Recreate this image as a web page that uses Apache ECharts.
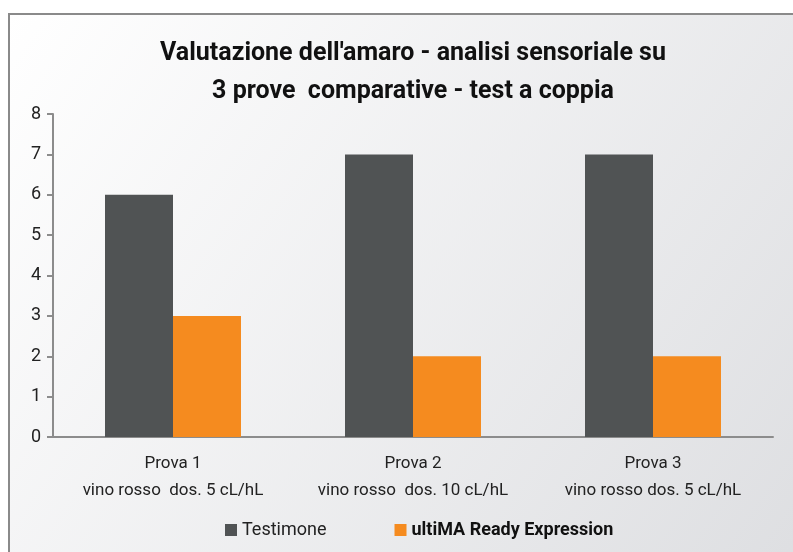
<!DOCTYPE html>
<html lang="it">
<head>
<meta charset="utf-8" />
<script src="https://cdn.jsdelivr.net/npm/echarts@6/dist/echarts.min.js"></script>
<style>
  html, body { margin: 0; padding: 0; background: #fff; }
  #view1 { width: 793px; height: 552px; }
</style>
</head>
<body>
<div id="view1"></div>
<script>
    // dati
    var categories = ["Prova 1\nvino rosso  dos. 5 cL/hL", "Prova 2\nvino rosso  dos. 10 cL/hL", "Prova 3\nvino rosso dos. 5 cL/hL"];
    var seriesNames = ["Testimone", "ultiMA Ready Expression"];
    var testimone = [6, 7, 7];
    var ultima = [3, 2, 2];
    var yTicks = [0, 8, 1];   // min, max, interval

    var colDark = "#505354", colOrange = "#F58B1F", axisClr = "#8c8c8c";
    var font = "Roboto";

    var myChart = echarts.init(document.getElementById("view1"));
    myChart.setOption({
        backgroundColor: "#fff",
        animation: false,
        graphic: [{
            type: "rect", z: -10, silent: true,
            shape: { x: 9, y: 14, width: 800, height: 560 },
            style: {
                stroke: "#8a8a8a", lineWidth: 2,
                fill: new echarts.graphic.LinearGradient(0, 0, 1, 1, [
                    { offset: 0, color: "#ffffff" },
                    { offset: 1, color: "#dddee1" }
                ])
            }
        }],
        title: {
            text: "Valutazione dell'amaro - analisi sensoriale su\n3 prove  comparative - test a coppia",
            left: 408, top: 30, textAlign: "center",
            textStyle: { fontFamily: font, fontWeight: "bold", fontSize: 25, color: "#111", lineHeight: 38 }
        },
        legend: {
            bottom: 8, left: 220, itemWidth: 12, itemHeight: 12, itemGap: 68, itemStyle: { borderWidth: 0 },
            icon: "rect",
            data: [
                { name: seriesNames[0], textStyle: { fontFamily: font, fontSize: 18, color: "#222" } },
                { name: seriesNames[1], textStyle: { fontFamily: font, fontSize: 18, fontWeight: "bold", color: "#111" } }
            ]
        },
        grid: { left: 53, right: 20, top: 114, bottom: 115 },
        xAxis: {
            type: "category", data: categories,
            axisLine: { lineStyle: { color: axisClr, width: 2 } },
            axisTick: { length: 6, lineStyle: { color: axisClr, width: 2 } },
            axisLabel: { interval: 0, fontFamily: font, fontSize: 17, color: "#222", lineHeight: 27, margin: 13 }
        },
        yAxis: {
            type: "value", min: yTicks[0], max: yTicks[1], interval: yTicks[2],
            splitLine: { show: false },
            axisLine: { show: true, lineStyle: { color: axisClr, width: 2 } },
            axisTick: { show: true, length: 6, lineStyle: { color: axisClr, width: 2 } },
            axisLabel: { fontFamily: font, fontSize: 18, color: "#222", margin: 12 }
        },
        series: [
            { name: seriesNames[0], type: "bar", data: testimone, barWidth: 68, barGap: "0%", itemStyle: { color: colDark } },
            { name: seriesNames[1], type: "bar", data: ultima, barWidth: 68, itemStyle: { color: colOrange } }
        ]
    });
</script>
</body>
</html>
